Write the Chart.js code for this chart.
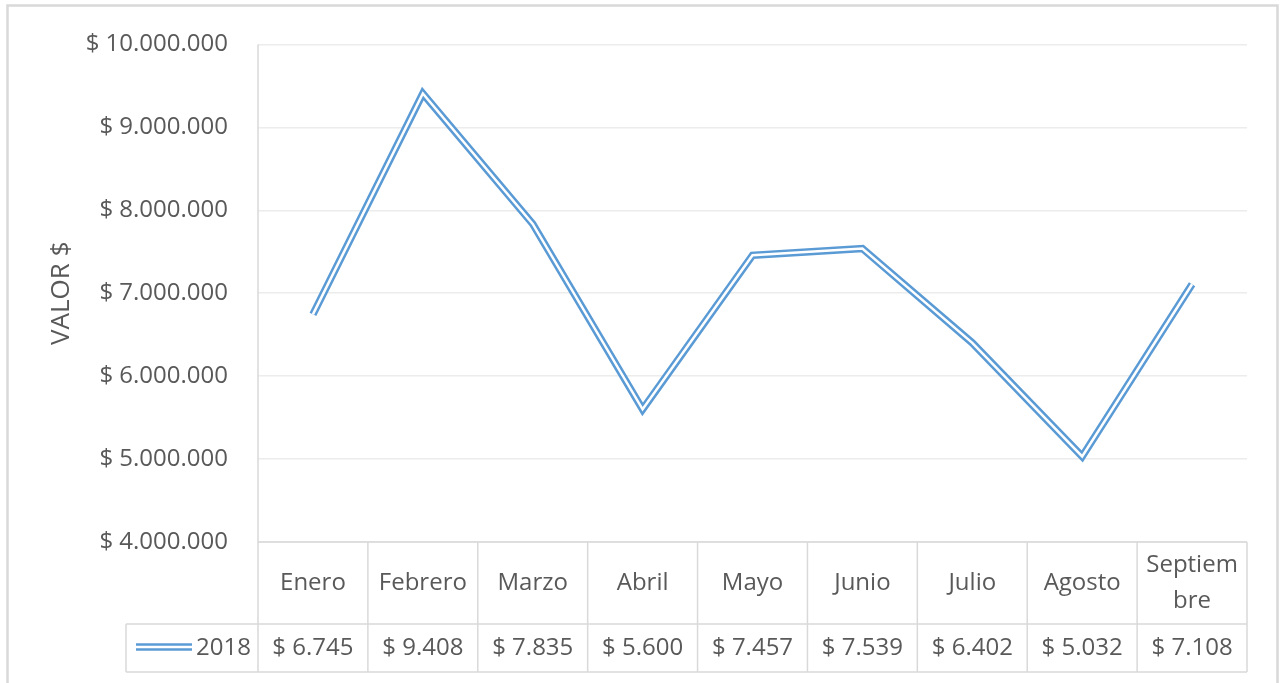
<!DOCTYPE html>
<html>
<head>
<meta charset="utf-8">
<script src="https://cdn.jsdelivr.net/npm/chart.js@4.4.1/dist/chart.umd.min.js"></script>
<style>
html, body { margin: 0; padding: 0; background: #fff; }
#wrap { width: 1282px; height: 683px; position: relative; }
</style>
</head>
<body>
<div id="wrap"><canvas id="chart"></canvas></div>
<script>
var categories = ['Enero', 'Febrero', 'Marzo', 'Abril', 'Mayo', 'Junio', 'Julio', 'Agosto', ['Septiem', 'bre']];
var seriesName = '2018';
var values2018 = [6745000, 9408000, 7835000, 5600000, 7457000, 7539000, 6402000, 5032000, 7108000];
var yMin = 4000000, yMax = 10000000, yStep = 1000000;

var blue = '#5b9bd5', grey = '#595959', lineGrey = '#d9d9d9';
var fontFamily = '"Open Sans", sans-serif';

function dots(n) {
  return String(Math.round(n)).replace(/\B(?=(\d{3})+(?!\d))/g, '.');
}

var ctx = document.getElementById('chart').getContext('2d');

var tablePlugin = {
  id: 'excelTable',
  beforeDraw: function(chart) {
    var c = chart.ctx;
    c.save();
    c.strokeStyle = lineGrey;
    c.lineWidth = 2.5;
    c.strokeRect(7.5, 5.5, 1270, 700);
    c.restore();
  },
  afterDraw: function(chart) {
    var c = chart.ctx, a = chart.chartArea, xs = chart.scales.x;
    var colW = (a.right - a.left) / categories.length;
    var top = a.bottom, mid = a.bottom + 82, bot = a.bottom + 130;
    var legLeft = 126;

    function seg(x1, y1, x2, y2) {
      c.beginPath(); c.moveTo(x1, y1); c.lineTo(x2, y2); c.stroke();
    }

    c.save();
    c.strokeStyle = lineGrey;
    c.lineWidth = 1.5;
    seg(a.left, top, a.right, top);
    seg(legLeft, mid, a.right, mid);
    seg(legLeft, bot, a.right, bot);
    seg(legLeft, mid, legLeft, bot);
    seg(a.left, a.top, a.left, bot);
    for (var i = 0; i < categories.length; i++) {
      var xr = xs.getPixelForValue(i) + colW / 2;
      seg(xr, top, xr, bot);
    }

    c.fillStyle = grey;
    c.font = '24px ' + fontFamily;
    c.textAlign = 'center';
    c.textBaseline = 'middle';
    for (var j = 0; j < categories.length; j++) {
      var cx = xs.getPixelForValue(j);
      var lab = categories[j];
      if (Array.isArray(lab)) {
        c.fillText(lab[0], cx, (top + mid) / 2 - 18);
        c.fillText(lab[1], cx, (top + mid) / 2 + 18);
      } else {
        c.fillText(lab, cx, (top + mid) / 2);
      }
      c.fillText('$ ' + dots(values2018[j] / 1000), cx, (mid + bot) / 2);
    }

    // legend key
    var ly = (mid + bot) / 2 - 1;
    c.strokeStyle = blue; c.lineWidth = 7.5;
    seg(136, ly, 192, ly);
    c.strokeStyle = '#fff'; c.lineWidth = 2.5;
    seg(136, ly, 192, ly);
    c.textAlign = 'right';
    c.fillText(seriesName, 251, (mid + bot) / 2);
    c.restore();
  }
};

var chart = new Chart(ctx, {
  type: 'line',
  data: {
    labels: categories,
    datasets: [
      {
        label: seriesName,
        data: values2018,
        borderColor: '#ffffff',
        borderWidth: 2.5,
        pointRadius: 0,
        tension: 0,
        borderJoinStyle: 'miter',
        order: 0
      },
      {
        label: seriesName,
        data: values2018,
        borderColor: blue,
        borderWidth: 7.5,
        pointRadius: 0,
        tension: 0,
        borderJoinStyle: 'miter',
        order: 1
      }
    ]
  },
  options: {
    responsive: true,
    maintainAspectRatio: false,
    animation: false,
    events: [],
    layout: { padding: { left: 0, top: 39, right: 35, bottom: 0 } },
    plugins: {
      legend: { display: false },
      tooltip: { enabled: false }
    },
    scales: {
      x: {
        offset: true,
        grid: { display: false },
        border: { display: false },
        ticks: { display: false },
        afterFit: function(s) { s.height = 141; }
      },
      y: {
        min: yMin,
        max: yMax,
        grid: { color: '#ececec', lineWidth: 1.5, drawTicks: false },
        border: { display: false },
        ticks: {
          stepSize: yStep,
          padding: 30,
          color: grey,
          font: { family: fontFamily, size: 24 },
          callback: function(v) { return '$ ' + dots(v); }
        },
        title: {
          display: true,
          text: 'VALOR $',
          color: grey,
          font: { family: fontFamily, size: 26 },
          padding: { top: 46, bottom: 0 }
        },
        afterFit: function(s) { s.width = 258; }
      }
    }
  },
  plugins: [tablePlugin]
});
</script>
</body>
</html>
